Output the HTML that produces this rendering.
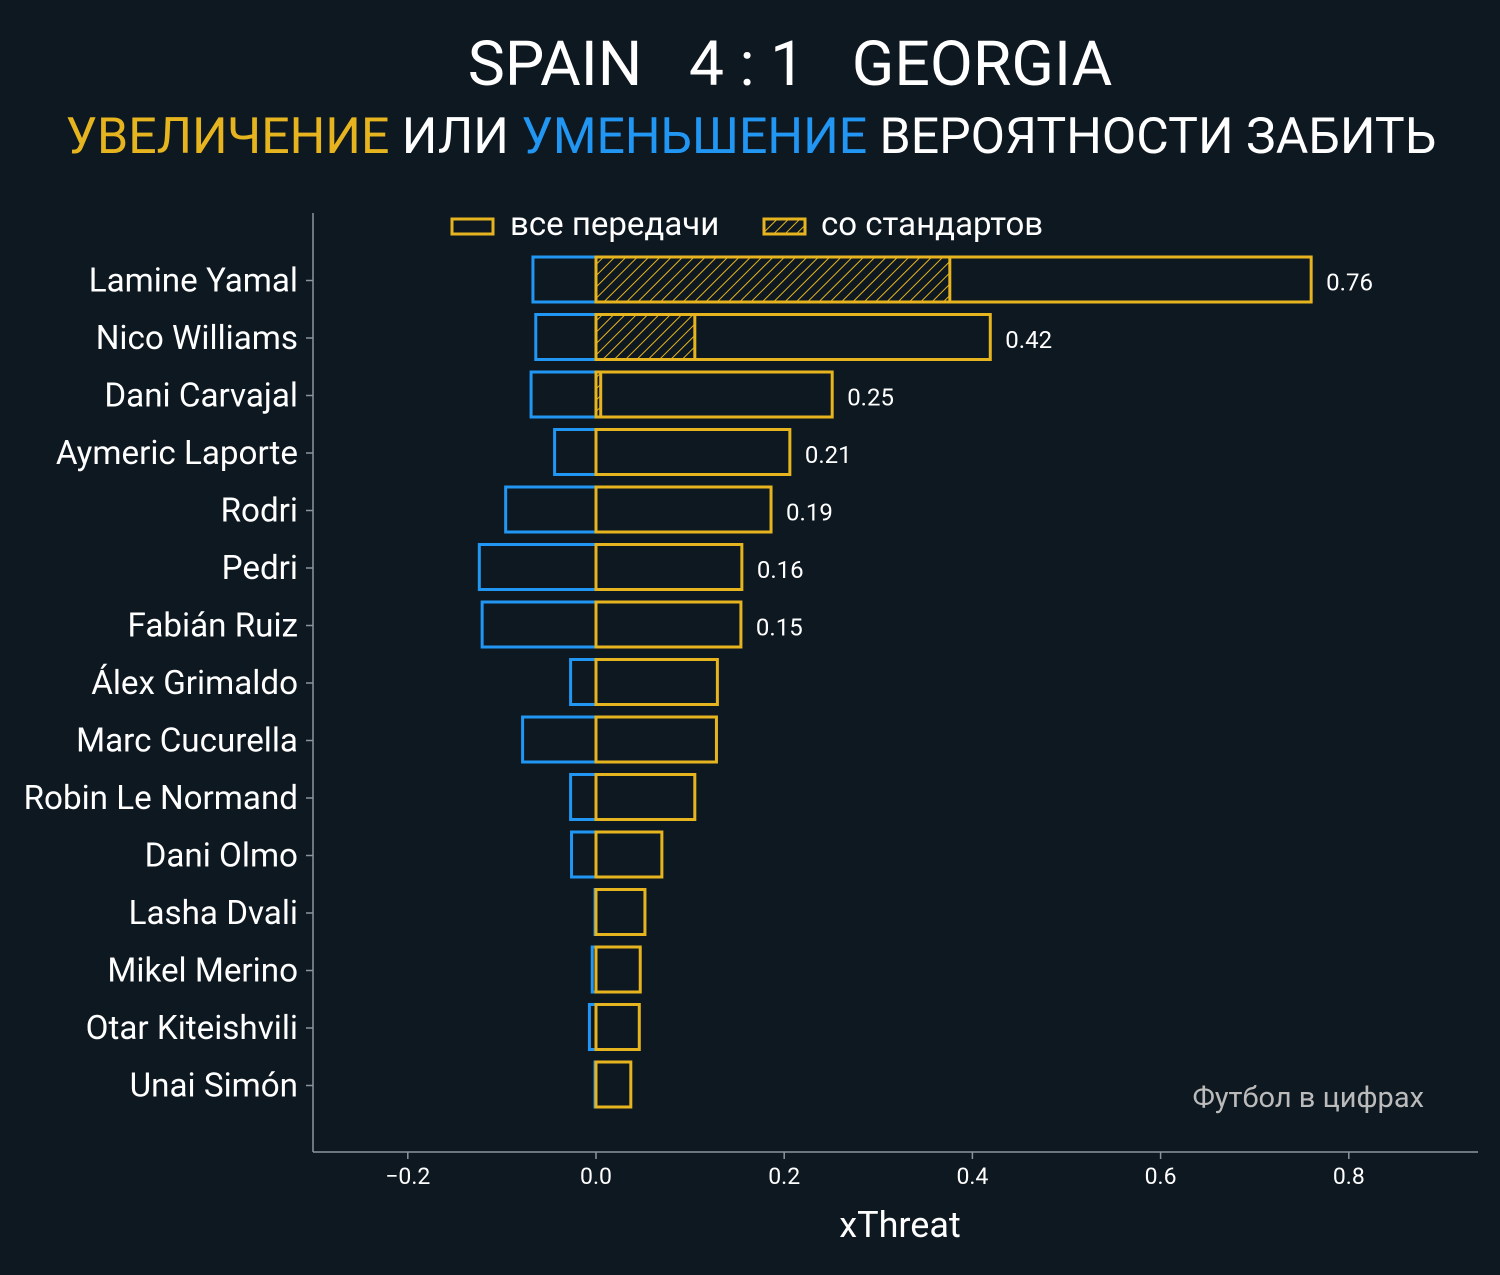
<!DOCTYPE html>
<html><head><meta charset="utf-8"><style>
html,body{margin:0;padding:0;background:#0e1821;}
svg{display:block;font-family:"Roboto","Liberation Sans","DejaVu Sans",sans-serif;}
</style></head><body>
<svg id="chart" width="1500" height="1275" viewBox="0 0 1500 1275" xmlns="http://www.w3.org/2000/svg">
<defs>
<pattern id="hatch" patternUnits="userSpaceOnUse" width="8" height="8" patternTransform="rotate(45)">
<line x1="0" y1="0" x2="0" y2="8" stroke="#e6b41e" stroke-width="2"/>
</pattern>
</defs>
<rect width="1500" height="1275" fill="#0e1821"/>
<text x="790" y="85" font-size="62.5" fill="#ffffff" text-anchor="middle" xml:space="preserve">SPAIN   4 : 1   GEORGIA</text>
<text x="751" y="153" font-size="50" fill="#ffffff" text-anchor="middle"><tspan fill="#e6b41e">УВЕЛИЧЕНИЕ</tspan> ИЛИ <tspan fill="#2196f3">УМЕНЬШЕНИЕ</tspan> ВЕРОЯТНОСТИ ЗАБИТЬ</text>
<g id="legend">
<rect x="452" y="219" width="41" height="15" fill="none" stroke="#e6b41e" stroke-width="3"/>
<text x="510" y="235" font-size="33" fill="#ffffff">все передачи</text>
<rect x="764" y="219" width="41" height="15" fill="url(#hatch)" stroke="#e6b41e" stroke-width="3"/>
<text x="821" y="235" font-size="33" fill="#ffffff">со стандартов</text>
</g>
<g id="bars"></g>
<g id="axes"></g>
<text x="1424" y="1107" font-size="29" fill="#bbbbbb" text-anchor="end">Футбол в цифрах</text>
<text x="900" y="1237" font-size="36" fill="#ffffff" text-anchor="middle">xThreat</text>
</svg>
<script>
const players = ["Lamine Yamal","Nico Williams","Dani Carvajal","Aymeric Laporte","Rodri","Pedri","Fabián Ruiz","Álex Grimaldo","Marc Cucurella","Robin Le Normand","Dani Olmo","Lasha Dvali","Mikel Merino","Otar Kiteishvili","Unai Simón"];
const positiveValues = [0.760,0.419,0.251,0.206,0.186,0.155,0.154,0.129,0.128,0.105,0.070,0.052,0.047,0.046,0.037];
const setPieceValues = [0.376,0.105,0.005,0,0,0,0,0,0,0,0,0,0,0,0];
const negativeValues = [-0.067,-0.064,-0.069,-0.044,-0.096,-0.124,-0.121,-0.027,-0.078,-0.027,-0.026,-0.001,-0.004,-0.007,-0.001];
const valueLabels = ["0.76","0.42","0.25","0.21","0.19","0.16","0.15","","","","","","","",""];
const xTicks = [-0.2,0,0.2,0.4,0.6,0.8];
const xTickLabels = ["−0.2","0.0","0.2","0.4","0.6","0.8"];

const NS="http://www.w3.org/2000/svg";
const X0=596, XS=941;
const xScale=v=>X0+v*XS;
const yScale=i=>279.5+i*57.5;
const BH=45;
function mk(tag,attrs,parent){const e=document.createElementNS(NS,tag);for(const k in attrs)e.setAttribute(k,attrs[k]);parent.appendChild(e);return e;}
const bars=document.getElementById('bars'), axes=document.getElementById('axes');
players.forEach((p,i)=>{
  const yc=yScale(i);
  const n=negativeValues[i];
  const nb=mk('rect',{x:xScale(n),y:yc-BH/2,width:Math.max(0.5,xScale(0)-xScale(n)),height:BH,fill:'none',stroke:'#2196f3','stroke-width':3},bars);
  
  
  if(setPieceValues[i]>0){
    const sb=mk('rect',{x:xScale(0),y:yc-BH/2,width:xScale(setPieceValues[i])-xScale(0),height:BH,fill:'url(#hatch)',stroke:'#e6b41e','stroke-width':3},bars);
    
    
  }
  const pb=mk('rect',{x:xScale(0),y:yc-BH/2,width:xScale(positiveValues[i])-xScale(0),height:BH,fill:'none',stroke:'#e6b41e','stroke-width':3},bars);
  
  
  if(valueLabels[i]){
    const t=mk('text',{x:xScale(positiveValues[i])+15,y:yc+11,'font-size':24,fill:'#ffffff'},bars);
    t.textContent=valueLabels[i];
    
    
  }
  const tk=mk('line',{x1:306,x2:313,y1:yc+1,y2:yc+1,stroke:'#8a959e','stroke-width':1.5},axes);
  
  
  const lb=mk('text',{x:298,y:yc+12,'font-size':33.2,fill:'#ffffff','text-anchor':'end'},axes);
  lb.textContent=p;
  
  
});
const ys=mk('line',{x1:313,x2:313,y1:213,y2:1152,stroke:'#8a959e','stroke-width':1.5},axes);


const xs=mk('line',{x1:313,x2:1478,y1:1152,y2:1152,stroke:'#8a959e','stroke-width':1.5},axes);


xTicks.forEach((v,i)=>{
  const t=mk('line',{x1:xScale(v),x2:xScale(v),y1:1152,y2:1159,stroke:'#8a959e','stroke-width':1.5},axes);
  
  
  const l=mk('text',{x:xScale(v),y:1184,'font-size':23,fill:'#ffffff','text-anchor':'middle'},axes);
  l.textContent=xTickLabels[i];
  
  
});
</script>
</body></html>
